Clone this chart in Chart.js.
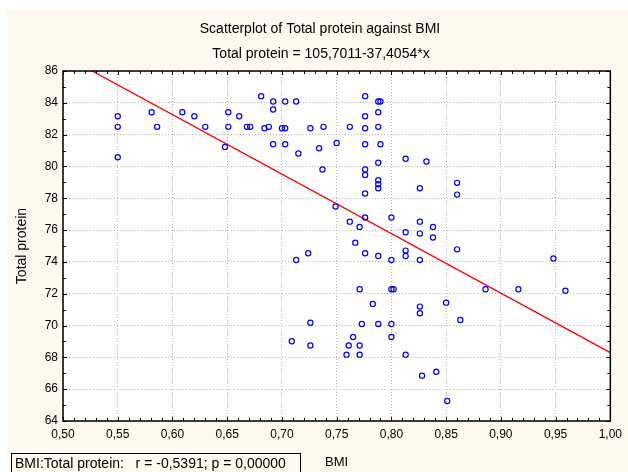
<!DOCTYPE html>
<html>
<head>
<meta charset="utf-8">
<script src="https://cdn.jsdelivr.net/npm/chart.js@4.4.1/dist/chart.umd.min.js"></script>
<style>
  html, body { margin: 0; padding: 0; background: #ffffff; }
  #wrap { width: 628px; height: 472px; position: relative; }
</style>
</head>
<body>
<div id="wrap"><canvas id="scatterChart"></canvas></div>
<script>
// values
const bmi = [
  0.550, 0.550, 0.550, 0.581, 0.586, 0.609, 0.620, 0.630, 0.648, 0.651,
  0.651, 0.661, 0.668, 0.671, 0.681, 0.684, 0.688, 0.692, 0.692, 0.692,
  0.700, 0.703, 0.703, 0.703, 0.713, 0.715, 0.726, 0.734, 0.737, 0.738,
  0.749, 0.750, 0.762, 0.762, 0.771, 0.776, 0.776, 0.776, 0.776, 0.776,
  0.776, 0.776, 0.776, 0.788, 0.790, 0.788, 0.788, 0.790, 0.788, 0.788,
  0.788, 0.788, 0.800, 0.813, 0.813, 0.826, 0.826, 0.826, 0.832, 0.838,
  0.838, 0.767, 0.776, 0.788, 0.800, 0.813, 0.813, 0.826, 0.713, 0.724,
  0.771, 0.800, 0.802, 0.783, 0.826, 0.826, 0.726, 0.773, 0.788, 0.800,
  0.800, 0.709, 0.726, 0.765, 0.761, 0.771, 0.759, 0.771, 0.813, 0.828,
  0.841, 0.860, 0.948, 0.886, 0.916, 0.959, 0.850, 0.863, 0.851, 0.860,
  0.860
];
const totalProtein = [
  83.16, 82.49, 80.58, 83.41, 82.49, 83.41, 83.16, 82.49, 81.23, 83.41,
  82.49, 83.16, 82.49, 82.49, 84.42, 82.40, 82.49, 84.08, 83.58, 81.40,
  82.40, 82.40, 84.08, 81.40, 84.08, 80.81, 82.40, 81.14, 79.81, 82.49,
  77.48, 81.48, 82.49, 76.53, 76.20, 84.42, 83.16, 82.40, 81.40, 79.81,
  79.47, 78.30, 76.79, 84.08, 84.08, 83.41, 82.49, 81.40, 80.23, 79.13,
  78.88, 78.63, 76.79, 80.48, 75.86, 78.63, 76.53, 75.78, 80.31, 76.20,
  75.53, 75.21, 74.54, 74.37, 74.12, 74.71, 74.37, 74.12, 74.12, 74.54,
  72.28, 72.28, 72.28, 71.36, 71.19, 70.77, 70.18, 70.10, 70.10, 70.10,
  69.28, 69.01, 68.75, 69.28, 68.75, 68.75, 68.17, 68.17, 68.17, 66.85,
  67.10, 74.79, 74.21, 72.28, 72.28, 72.19, 71.44, 70.35, 65.26, 78.97,
  78.23
];
const fitIntercept = 105.7011;
const fitSlope = -37.4054;
const fitRange = [0.50, 1.00];
const xLimits = [0.50, 1.00];
const yLimits = [64, 86];

const titleText = 'Scatterplot of Total protein against BMI';
const subtitleText = 'Total protein = 105,7011-37,4054*x';
const statText = 'BMI:Total protein:   r = -0,5391; p = 0,00000';

const FONT = '"Liberation Sans", Arial, sans-serif';

const points = bmi.map((x, i) => ({ x: x, y: totalProtein[i] }));
const fitLine = fitRange.map(x => ({ x: x, y: fitIntercept + fitSlope * x }));

const frame = {
  id: 'frame',
  beforeDraw(chart) {
    const { ctx, chartArea: a } = chart;
    ctx.save();
    ctx.fillStyle = '#ffffff';
    ctx.fillRect(0, 0, chart.width, chart.height);
    ctx.fillStyle = '#fef9ee';
    ctx.fillRect(7, 10, chart.width - 7, chart.height - 10);
    ctx.fillStyle = '#ffffff';
    ctx.fillRect(a.left, a.top, a.right - a.left, a.bottom - a.top);
    ctx.restore();
  },
  afterDraw(chart) {
    const { ctx, chartArea: a } = chart;
    const xs = chart.scales.x, ys = chart.scales.y;
    ctx.save();
    // inward tick marks, major and minor
    ctx.strokeStyle = '#000';
    ctx.lineWidth = 1;
    ctx.beginPath();
    for (let k = 0; k <= 50; k++) {
      const v = xLimits[0] + k * 0.01;
      const px = Math.round(xs.getPixelForValue(v)) + 0.5;
      const len = k % 5 === 0 ? 4 : 3;
      ctx.moveTo(px, a.bottom); ctx.lineTo(px, a.bottom - len);
      ctx.moveTo(px, a.top); ctx.lineTo(px, a.top + len);
    }
    for (let v = yLimits[0]; v <= yLimits[1]; v++) {
      const py = Math.round(ys.getPixelForValue(v)) + 0.5;
      const len = v % 2 === 0 ? 4 : 3;
      ctx.moveTo(a.left, py); ctx.lineTo(a.left + len, py);
      ctx.moveTo(a.right, py); ctx.lineTo(a.right - len, py);
    }
    ctx.stroke();
    ctx.lineWidth = 1.5;
    ctx.strokeRect(a.left, a.top, a.right - a.left, a.bottom - a.top);

    // titles
    ctx.fillStyle = '#000';
    ctx.font = '14px ' + FONT;
    ctx.textAlign = 'center';
    ctx.textBaseline = 'middle';
    ctx.fillText(titleText, 320, 29);
    ctx.fillText(subtitleText, 321, 54);

    // statistics box
    ctx.lineWidth = 1;
    ctx.strokeRect(11.5, 453.5, 289, 30);
    ctx.textAlign = 'left';
    ctx.fillText(statText, 15, 464.5);
    ctx.restore();
  }
};

new Chart(document.getElementById('scatterChart'), {
  type: 'scatter',
  data: {
    datasets: [
      {
        label: 'Total protein',
        data: points,
        pointStyle: 'circle',
        pointRadius: 2.6,
        pointBorderWidth: 1.2,
        pointBorderColor: '#0000ff',
        pointBackgroundColor: 'rgba(0,0,0,0)',
        order: 1
      },
      {
        label: 'Fit',
        type: 'line',
        data: fitLine,
        borderColor: '#ff0000',
        borderWidth: 1.3,
        pointRadius: 0,
        fill: false,
        order: 2
      }
    ]
  },
  options: {
    responsive: true,
    maintainAspectRatio: false,
    animation: false,
    events: [],
    layout: { padding: { left: 0, right: 15, top: 71, bottom: 0 } },
    plugins: { legend: { display: false }, tooltip: { enabled: false }, title: { display: false } },
    scales: {
      x: {
        type: 'linear',
        min: xLimits[0],
        max: xLimits[1],
        ticks: {
          stepSize: 0.05,
          color: '#000',
          font: { family: FONT, size: 12 },
          padding: 6,
          maxRotation: 0,
          callback: v => v.toFixed(2).replace('.', ',')
        },
        grid: { color: '#b4b4b4', lineWidth: 1, drawTicks: false },
        border: { display: false, dash: [1, 2] },
        title: { display: true, text: 'BMI', color: '#000', font: { family: FONT, size: 13 }, padding: { top: 0, bottom: 2 } },
        afterFit: s => { s.height = 51; }
      },
      y: {
        type: 'linear',
        min: yLimits[0],
        max: yLimits[1],
        ticks: {
          stepSize: 2,
          color: '#000',
          font: { family: FONT, size: 12 },
          padding: 5
        },
        grid: { color: '#b4b4b4', lineWidth: 1, drawTicks: false },
        border: { display: false, dash: [1, 2] },
        title: { display: true, text: 'Total protein', color: '#000', font: { family: FONT, size: 14 }, padding: { top: 14, bottom: 0 } },
        afterFit: s => { s.width = 63; }
      }
    }
  },
  plugins: [frame]
});
</script>
</body>
</html>
